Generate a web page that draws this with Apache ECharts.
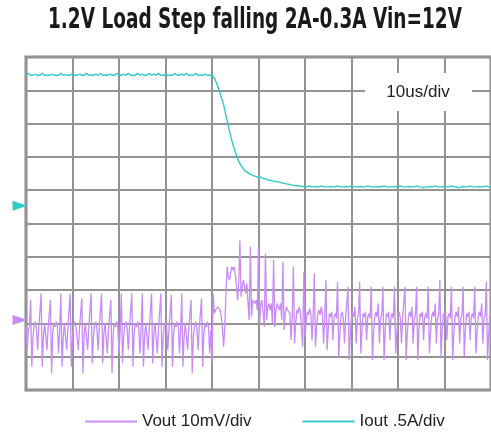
<!DOCTYPE html>
<html lang="en">
<head>
    <meta charset="UTF-8">
    <title>1.2V Load Step falling</title>
    <script type="text/javascript" src="https://cdn.jsdelivr.net/npm/echarts@6/dist/echarts.min.js"></script>
    <style>
        html, body { margin: 0; padding: 0; background: #fff; }
    </style>
</head>
<body>
    <div id="main" style="width: 491px;height:433px;"></div>
    <script type="text/javascript">

        // scope capture, 10us/div, 10 divisions
        var timeMin = 0;
        var timeMax = 100;
        var timeDiv = 10;

        // Vout deviation in mV, one sample every 0.25us (AC coupled, 10mV/div)
        var vStep = 0.25;
        var vOut = [
            -2, -9, -3, -2,
            6, -14, -5, -1.5, -0.5, -2.5, -9, -2.5, -2,
            8, -14, -5, -1, -1.5, -9, -2.5, -2,
            6, -16, -4, -1, -2, -0.5, -2, -10, -3,
            8, -14, -5, -1, -1.5, -9, -2.5, -2,
            8, -14, -5, -1.5, -0.5, -2, -2.5, -9, -2.5, -2,
            6.5, -16, -5, -1, -1.5, -9, -2.5, -2,
            8, -13, -5, -1.5, -0.5, -2.5, -9, -2.5, -2,
            8, -13, -4, -1, -1.5, -10, -2.5, -2,
            6, -16, -4, -1, -2, -0.5, -2, -10, -3,
            8, -13, -5, -1.5, -0.5, -2.5, -9, -2.5, -2,
            8, -14, -4, -1, -2, -0.5, -2, -10, -3,
            8, -14, -5, -1, -1.5, -9, -2.5, -2,
            8, -13, -4, -1, -1.5, -10, -2.5, -2,
            8, -14, -5, -1.5, -0.5, -2.5, -9, -2.5, -2,
            7.5, -14, -4, -1, -2, -0.5, -2, -10, -3,
            8, -14, -5, -1, -1.5, -9, -2.5, -2,
            6, -16, -5, -1.5, -0.5, -2.5, -9, -2.5, -2,
            6.5, -14, -4, -1, -2, -0.5, -2, -10, -3,
            // load step at 40us
            -13, 8, 2, 3, 3, 4, 4, 3, 1, -3,
            -8, -2, 8, 16, 13, 12, 14, 16, 15, 16,
            14, 10, 6, 11, 24, 7, 10, 12, 11.5, 8,
            11, 5, 0, 22, 1, 6, 6.5, 5, 6, 3,
            22, -1, 5, 6, 5.5, -2, 20, 0, 4, 5,
            3, 5, -1, 18, -2, 3, 5, 4.5, 3, 5,
            0, 17.5, -3, 2, 4, 3, 3.5, 2, -6, 1,
            16, -7, -1, 3, 2, 4, 2.5, 3, -8, 14.5,
            -5, -1, 2.5, 1.5, 3.5, 2, -6, 1, 14, -8,
            -2, 2, 3, 1.5, 4, 2, -7, 1,
            12, -9, -3, 2, 1, 2.5, -6, 1, 2, 0.5,
            11.5, -11, -4, 1.5, 2.5, 0.5, -7, 1, 1.5,
            10, -12, -4, 1, 2.5, 1, 4, -7, 0.5, 1.5,
            11.5, -10, -3, 2, 1, 2.5, -6, 1, 2, 0.5,
            10, -12, -4, 1, 2.5, 1, 5, -7, 0.5, 1.5,
            10, -12, -3, 2, 1, 2.5, -6, 1, 2, 0.5,
            10, -10, -4, 1.5, 2.5, 0.5, -7, 1, 1.5,
            10, -12, -4, 1, 2.5, 1, 4, -7, 0.5, 1.5,
            10, -12, -3, 2, 1, 2.5, -6, 1, 2, 0.5,
            10, -10, -4, 1, 2.5, 1, 5, -7, 0.5, 1.5,
            12, -11, -3, 2, 1, 2.5, -6, 1, 2, 0.5,
            10, -12, -4, 1, 2.5, 1, 4, -7, 0.5, 1.5,
            10, -11, -3, 2, 1, 2.5, -6, 1, 2, 0.5,
            10, -10, -4, 1, 2.5, 1, 5, -7, 0.5, 1.5,
            11.5, -12, -4, 1, 2
        ];

        // Iout in A, one sample every 0.5us (.5A/div)
        var iStep = 0.5;
        var iOut = [
            1.96, 1.99, 1.96, 1.96, 1.98, 1.96, 1.96, 1.99, 1.96, 1.96,
            1.96, 1.98, 1.96, 1.96, 1.96, 1.99, 1.96, 1.97, 1.96, 1.96,
            1.99, 1.96, 1.96, 1.98, 1.96, 1.96, 1.99, 1.96, 1.96, 1.96,
            1.98, 1.96, 1.99, 1.96, 1.96, 1.96, 1.98, 1.96, 1.96, 1.99,
            1.96, 1.96, 1.98, 1.96, 1.99, 1.96, 1.96, 1.96, 1.99, 1.96,
            1.98, 1.96, 1.96, 1.99, 1.96, 1.98, 1.96, 1.99, 1.96, 1.96,
            1.98, 1.96, 1.96, 1.96, 1.99, 1.96, 1.96, 1.98, 1.96, 1.99,
            1.96, 1.96, 1.96, 1.99, 1.96, 1.96, 1.96, 1.98, 1.96, 1.96,
            1.96, 1.92, 1.84, 1.735, 1.63, 1.52, 1.36, 1.20, 1.05, 0.92,
            0.81, 0.71, 0.63, 0.58, 0.53, 0.51, 0.48, 0.47, 0.45, 0.44,
            0.43, 0.43, 0.41, 0.405, 0.39, 0.385, 0.375, 0.37, 0.36, 0.36,
            0.345, 0.34, 0.33, 0.325, 0.315, 0.31, 0.30, 0.305, 0.295, 0.29,
            0.29, 0.285, 0.30, 0.285, 0.285, 0.29, 0.285, 0.30, 0.285, 0.285,
            0.285, 0.29, 0.285, 0.285, 0.30, 0.285, 0.285, 0.285, 0.29, 0.285,
            0.30, 0.285, 0.285, 0.285, 0.29, 0.285, 0.285, 0.30, 0.285, 0.285,
            0.285, 0.285, 0.29, 0.285, 0.30, 0.285, 0.285, 0.285, 0.285, 0.29,
            0.285, 0.30, 0.285, 0.285, 0.285, 0.29, 0.285, 0.285, 0.30, 0.285,
            0.285, 0.27, 0.285, 0.285, 0.29, 0.285, 0.30, 0.285, 0.285, 0.285,
            0.29, 0.285, 0.285, 0.30, 0.285, 0.285, 0.27, 0.285, 0.29, 0.285,
            0.285, 0.30, 0.285, 0.285, 0.285, 0.29, 0.285, 0.285, 0.30, 0.285,
            0.285
        ];

        // channel scales: where the ground markers sit (in divisions from bottom)
        var vPerDiv = 10;   // mV
        var vZeroDiv = 2.1;
        var iPerDiv = 0.5;  // A
        var iZeroDiv = 5.53;

        var chartTitle = '1.2V Load Step falling 2A-0.3A Vin=12V';
        var seriesNames = ['Vout 10mV/div', 'Iout .5A/div'];
        var colors = ['#c88cf6', '#2fcaca'];

        function toPairs(values, step) {
            return values.map(function (v, i) { return [i * step, v]; });
        }

        var gridColor = '#939393';
        var marker = 'path://M0,0L15,5L0,10Z';

        var myChart = echarts.init(document.getElementById('main'));

        var option = {
            animation: false,
            backgroundColor: '#fff',
            legend: {
                data: seriesNames,
                left: 80,
                top: 408,
                icon: 'rect',
                itemWidth: 52,
                itemHeight: 2,
                itemGap: 51,
                textStyle: {
                    fontFamily: "'Liberation Sans', sans-serif",
                    fontSize: 17,
                    color: '#222'
                }
            },
            grid: {
                left: 26,
                top: 57,
                width: 467,
                height: 333,
                show: true,
                borderColor: '#858585',
                borderWidth: 3
            },
            xAxis: {
                type: 'value',
                min: timeMin,
                max: timeMax,
                interval: timeDiv,
                axisLine: { show: false },
                axisTick: { show: false },
                axisLabel: { show: false },
                splitLine: { lineStyle: { color: gridColor, width: 2 } }
            },
            yAxis: [{
                // divisions, only for the graticule
                type: 'value',
                min: 0,
                max: 10,
                interval: 1,
                axisLine: { show: false },
                axisTick: { show: false },
                axisLabel: { show: false },
                splitLine: { lineStyle: { color: gridColor, width: 2 } }
            }, {
                type: 'value',
                show: false,
                min: -vZeroDiv * vPerDiv,
                max: (10 - vZeroDiv) * vPerDiv,
                splitLine: { show: false }
            }, {
                type: 'value',
                show: false,
                min: -iZeroDiv * iPerDiv,
                max: (10 - iZeroDiv) * iPerDiv,
                splitLine: { show: false }
            }],
            graphic: [{
                // condensed bold title (no narrow font installed, so squeeze it)
                type: 'text',
                x: 255,
                y: 21,
                scaleX: 0.66,
                z: 100,
                style: {
                    text: chartTitle,
                    fill: '#1a1a1a',
                    font: "bold 28px 'DejaVu Sans', sans-serif",
                    align: 'center',
                    verticalAlign: 'middle'
                }
            }, {
                type: 'rect',
                z: 100,
                shape: { x: 365, y: 73, width: 107, height: 38 },
                style: { fill: '#fff' }
            }, {
                type: 'text',
                z: 101,
                x: 418,
                y: 92,
                style: {
                    text: '10us/div',
                    fill: '#222',
                    font: "17px 'Liberation Sans', sans-serif",
                    align: 'center',
                    verticalAlign: 'middle'
                }
            }],
            series: [{
                name: seriesNames[0],
                type: 'line',
                yAxisIndex: 1,
                showSymbol: false,
                sampling: false,
                color: colors[0],
                lineStyle: { width: 1.3, color: colors[0] },
                data: toPairs(vOut, vStep),
                markPoint: {
                    symbol: marker,
                    symbolSize: [15, 10],
                    symbolOffset: [-6, 0],
                    label: { show: false },
                    itemStyle: { color: colors[0] },
                    data: [{ coord: [timeMin, 0] }]
                }
            }, {
                name: seriesNames[1],
                type: 'line',
                yAxisIndex: 2,
                showSymbol: false,
                sampling: false,
                color: colors[1],
                lineStyle: { width: 1.4, color: colors[1] },
                data: toPairs(iOut, iStep),
                markPoint: {
                    symbol: marker,
                    symbolSize: [15, 10],
                    symbolOffset: [-6, 0],
                    label: { show: false },
                    itemStyle: { color: colors[1] },
                    data: [{ coord: [timeMin, 0] }]
                }
            }]
        };

        myChart.setOption(option);

    </script>
</body>
</html>
